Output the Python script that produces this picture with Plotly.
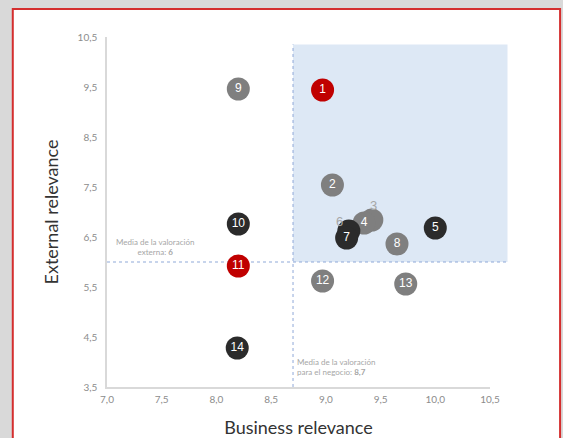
import plotly.graph_objects as go

# Data
labels = ["9", "1", "2", "3", "4", "6", "7", "5", "8", "10", "11", "12", "13", "14"]
business = [8.20, 8.97, 9.06, 9.42, 9.35, 9.21, 9.19, 10.00, 9.65, 8.20, 8.20, 8.97, 9.73, 8.19]
external = [9.46, 9.44, 7.54, 6.84, 6.78, 6.62, 6.48, 6.68, 6.36, 6.76, 5.92, 5.62, 5.56, 4.28]
group = ["gray", "red", "gray", "gray", "gray", "dark", "dark", "dark", "gray", "dark", "red", "gray", "gray", "dark"]
outside_labels = ["3", "6"]  # shown with leader lines

mean_business = 8.7
mean_external = 6.0
quadrant_right = 10.66
quadrant_top = 10.35

x_ticks = [7.0, 7.5, 8.0, 8.5, 9.0, 9.5, 10.0, 10.5]
y_ticks = [3.5, 4.5, 5.5, 6.5, 7.5, 8.5, 9.5, 10.5]
x_range = [7.0, 10.5]

palette = {"gray": "#7f7f7f", "red": "#c00000", "dark": "#2b2b2b"}
colors = [palette[g] for g in group]
inner_text = ["" if l in outside_labels else l for l in labels]


def xfrac(v):
    return (v - x_range[0]) / (x_range[1] - x_range[0])


fig = go.Figure()
fig.add_trace(go.Scatter(
    x=business, y=external, mode="markers+text",
    text=inner_text, textposition="middle center",
    textfont=dict(family="Liberation Sans", size=12, color="white"),
    marker=dict(size=23, color=colors, line=dict(width=0)),
    hoverinfo="skip", showlegend=False, cliponaxis=False,
))

shapes = [
    # page card
    dict(type="rect", xref="paper", yref="paper", x0=-0.246, x1=1.183, y0=-0.2, y1=1.08,
         fillcolor="white", line=dict(color="#d42e2e", width=2), layer="below"),
    # highlighted quadrant
    dict(type="rect", xref="paper", yref="y", x0=xfrac(mean_business), x1=xfrac(quadrant_right),
         y0=mean_external, y1=quadrant_top,
         fillcolor="#dde8f5", line=dict(width=0), layer="below"),
    dict(type="line", xref="paper", yref="y", x0=0, x1=xfrac(quadrant_right),
         y0=mean_external, y1=mean_external,
         line=dict(color="#8fa9d8", width=1, dash="dot"), layer="below"),
    dict(type="line", xref="x", yref="y", x0=mean_business, x1=mean_business, y0=3.5, y1=quadrant_top,
         line=dict(color="#8fa9d8", width=1, dash="dot"), layer="below"),
]

annotations = []
for l, ax, ay in [("3", 2, -15), ("6", -9, -10)]:
    i = labels.index(l)
    annotations.append(dict(
        x=business[i], y=external[i], xref="x", yref="y", text=l,
        showarrow=True, arrowhead=0, arrowwidth=1, arrowcolor="#a6a6a6",
        ax=ax, ay=ay, standoff=0, startstandoff=7,
        font=dict(family="Liberation Sans", size=13, color="#a6a6a6"),
    ))
annotations.append(dict(
    x=7.44, y=6.31, xref="x", yref="y", showarrow=False, align="center",
    text="Media de la valoración<br>externa: <b>6</b>",
    font=dict(family="Lato", size=8, color="#a6a6a6"),
))
annotations.append(dict(
    x=8.72, y=3.91, xref="x", yref="y", showarrow=False, align="left", xanchor="left",
    text="Media de la valoración<br>para el negocio: <b>8,7</b>",
    font=dict(family="Lato", size=8, color="#a6a6a6"),
))

fig.update_layout(
    width=563, height=438,
    margin=dict(l=107, r=73, t=37, b=51),
    paper_bgcolor="#d9d9d9", plot_bgcolor="rgba(0,0,0,0)",
    separators=",.",
    shapes=shapes, annotations=annotations,
    xaxis=dict(range=x_range, tickvals=x_ticks, tickformat=".1f", automargin=False,
               showgrid=False, zeroline=False, showline=True, linecolor="#d9d9d9", linewidth=1.5,
               tickfont=dict(family="Lato", size=10, color="#8c8c8c"), ticklabelstandoff=2,
               title=dict(text="Business relevance", standoff=24,
                          font=dict(family="Lato", size=18, color="#333333"))),
    yaxis=dict(range=[3.5, 10.5], tickvals=y_ticks, tickformat=".1f", automargin=False,
               showgrid=False, zeroline=False, showline=True, linecolor="#d9d9d9", linewidth=1.5,
               tickfont=dict(family="Lato", size=10, color="#8c8c8c"), ticklabelstandoff=6,
               title=dict(text="External relevance", standoff=14,
                          font=dict(family="Lato", size=18, color="#333333"))),
)

fig.write_html("out.html")
